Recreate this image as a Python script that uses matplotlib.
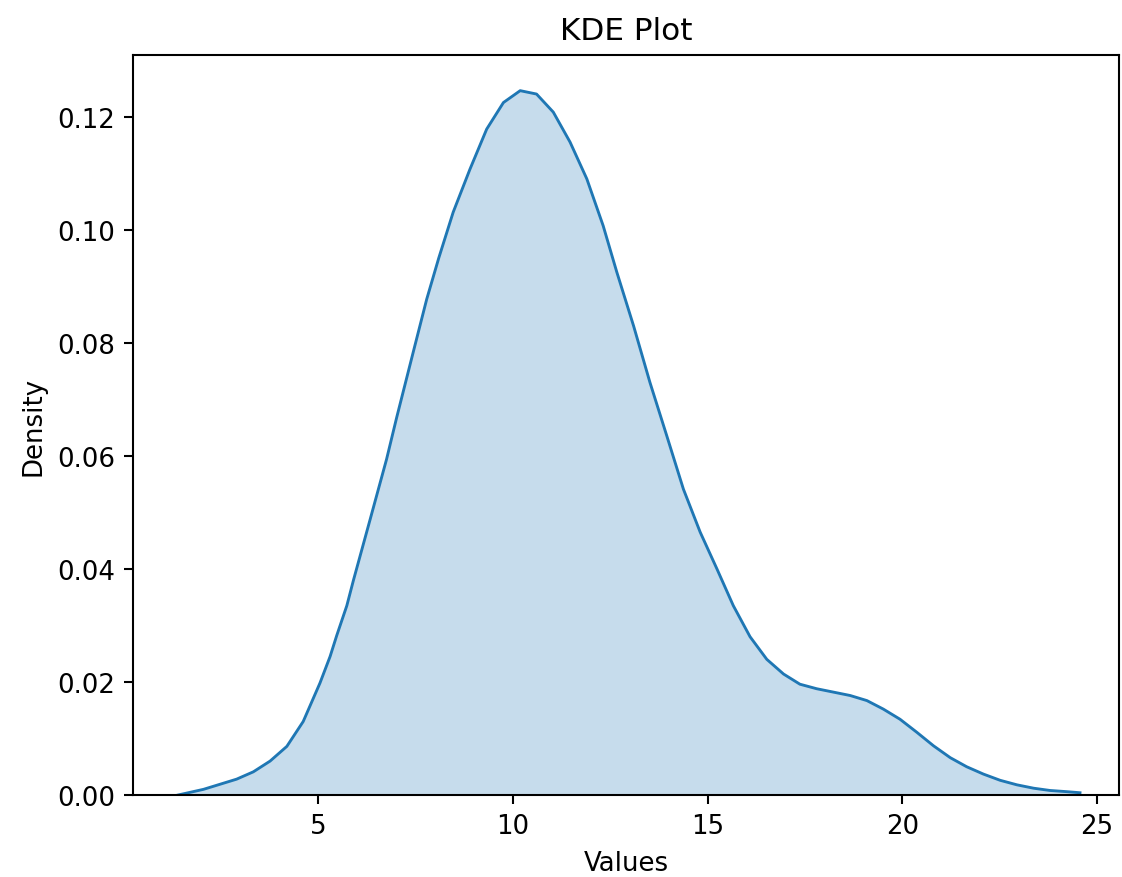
import numpy as np
import matplotlib
matplotlib.use("Agg")
import matplotlib.pyplot as plt

# curve points (x value, density)
values = [1.41, 2.06, 2.91, 3.34, 3.77, 4.20, 4.62, 5.05, 5.31, 5.48, 5.74,
          5.91, 6.34, 6.76, 7.02, 7.45, 7.79, 8.10, 8.47, 8.90, 9.33, 9.76,
          10.19, 10.61, 11.04, 11.47, 11.90, 12.32, 12.67, 13.10, 13.52,
          13.95, 14.38, 14.81, 15.24, 15.66, 16.09, 16.52, 16.95, 17.37,
          17.80, 18.23, 18.66, 19.09, 19.51, 19.94, 20.37, 20.80, 21.23,
          21.65, 22.08, 22.51, 22.94, 23.37, 23.79, 24.20, 24.56]
density = [0.0000, 0.0010, 0.0028, 0.0041, 0.0060, 0.0086, 0.0130, 0.0198,
           0.0245, 0.0282, 0.0335, 0.0380, 0.0488, 0.0594, 0.0668, 0.0785,
           0.0877, 0.0950, 0.1031, 0.1107, 0.1178, 0.1225, 0.1246, 0.1240,
           0.1208, 0.1155, 0.1090, 0.1007, 0.0925, 0.0830, 0.0730, 0.0636,
           0.0541, 0.0465, 0.0400, 0.0335, 0.0280, 0.0240, 0.0214, 0.0196,
           0.0188, 0.0182, 0.0176, 0.0167, 0.0152, 0.0134, 0.0111, 0.0087,
           0.0066, 0.0050, 0.0037, 0.0026, 0.0018, 0.0012, 0.0008, 0.0006,
           0.0004]

fig = plt.figure(figsize=(6.0, 4.695), dpi=187)
ax = fig.add_axes([0.1185, 0.0934, 0.8788, 0.8428])

ax.fill_between(values, density, color="#1f77b4", alpha=0.25, linewidth=0)
ax.plot(values, density, color="#1f77b4", linewidth=1.1)
ax.plot([values[0], values[-1]], [0, 0], color="#1f77b4", linewidth=1.1)

ax.set_xlim(0.25, 25.56)
ax.set_ylim(0, 0.1309)
ax.set_title("KDE Plot")
ax.set_xlabel("Values")
ax.set_ylabel("Density")

fig.savefig("out.png", dpi=187)
